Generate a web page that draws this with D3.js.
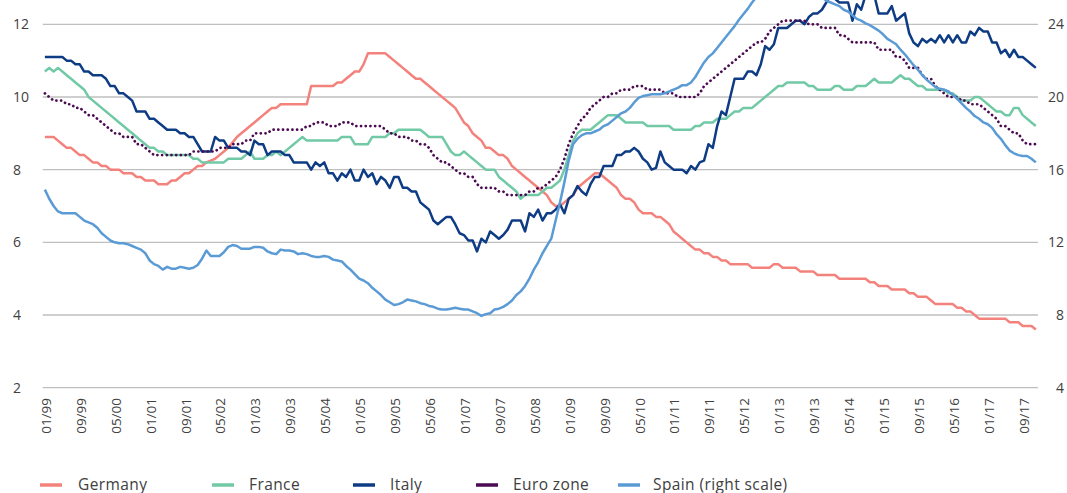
<!DOCTYPE html>
<html><head><meta charset="utf-8">
<script src="https://cdn.jsdelivr.net/npm/d3@7"></script>
<style>
html,body{margin:0;padding:0;background:#fff;}
svg{display:block;font-family:"Open Sans",sans-serif;}
</style></head><body>
<svg id="c" width="1067" height="493"></svg>
<script>
// ---- data (monthly, 01/1999 .. 12/2017) ----
const years = d3.range(1999, 2018);
const tickLabels = ["01/99","09/99","05/00","01/01","09/01","05/02","01/03","09/03","05/04","01/05","09/05","05/06","01/07","09/07","05/08","01/09","09/09","05/10","01/11","09/11","05/12","01/13","09/13","05/14","01/15","09/15","05/16","01/17","09/17"];
const leftTicks = [2,4,6,8,10,12];
const rightTicks = [4,8,12,16,20,24];

const germany = [
8.9,8.9,8.9,8.8,8.7,8.6,8.6,8.5,8.4,8.4,8.3,8.2,
8.2,8.1,8.1,8.0,8.0,8.0,7.9,7.9,7.9,7.8,7.8,7.7,
7.7,7.7,7.6,7.6,7.6,7.7,7.7,7.8,7.9,7.9,8.0,8.1,
8.1,8.2,8.25,8.3,8.4,8.5,8.6,8.75,8.9,9.0,9.1,9.2,
9.3,9.4,9.5,9.6,9.7,9.7,9.8,9.8,9.8,9.8,9.8,9.8,
9.8,10.3,10.3,10.3,10.3,10.3,10.3,10.4,10.4,10.5,10.6,10.7,
10.7,10.9,11.2,11.2,11.2,11.2,11.2,11.1,11.0,10.9,10.8,10.7,
10.6,10.5,10.5,10.4,10.3,10.2,10.1,10.0,9.9,9.8,9.7,9.5,
9.3,9.2,9.0,8.9,8.8,8.6,8.6,8.5,8.4,8.4,8.3,8.1,
8.0,7.9,7.8,7.7,7.6,7.5,7.4,7.3,7.1,7.0,7.0,7.1,
7.2,7.3,7.5,7.6,7.7,7.8,7.9,7.9,7.8,7.7,7.6,7.5,
7.3,7.2,7.2,7.1,6.9,6.8,6.8,6.8,6.7,6.7,6.6,6.5,
6.3,6.2,6.1,6.0,5.9,5.8,5.8,5.7,5.7,5.6,5.6,5.5,
5.5,5.4,5.4,5.4,5.4,5.4,5.3,5.3,5.3,5.3,5.3,5.4,
5.4,5.3,5.3,5.3,5.3,5.2,5.2,5.2,5.2,5.1,5.1,5.1,
5.1,5.1,5.0,5.0,5.0,5.0,5.0,5.0,5.0,4.9,4.9,4.8,
4.8,4.8,4.7,4.7,4.7,4.7,4.6,4.6,4.5,4.5,4.5,4.4,
4.3,4.3,4.3,4.3,4.3,4.2,4.2,4.1,4.1,4.0,3.9,3.9,
3.9,3.9,3.9,3.9,3.9,3.8,3.8,3.8,3.7,3.7,3.7,3.6];

const france = [
10.7,10.8,10.7,10.8,10.7,10.6,10.5,10.4,10.3,10.2,10.0,9.9,
9.8,9.7,9.6,9.5,9.4,9.3,9.2,9.1,9.0,8.9,8.8,8.7,
8.6,8.6,8.5,8.5,8.4,8.4,8.4,8.4,8.4,8.4,8.3,8.3,
8.2,8.2,8.2,8.2,8.2,8.2,8.3,8.3,8.3,8.3,8.4,8.5,
8.3,8.3,8.3,8.4,8.4,8.5,8.4,8.5,8.6,8.7,8.8,8.9,
8.8,8.8,8.8,8.8,8.8,8.8,8.8,8.8,8.9,8.9,8.9,8.7,
8.7,8.7,8.7,8.9,8.9,8.9,8.9,9.0,9.0,9.1,9.1,9.1,
9.1,9.1,9.1,9.0,8.9,8.9,8.9,8.9,8.7,8.5,8.4,8.4,
8.5,8.4,8.3,8.2,8.1,8.0,8.0,8.0,7.8,7.7,7.6,7.5,
7.4,7.2,7.3,7.3,7.3,7.3,7.4,7.5,7.5,7.6,7.7,8.0,
8.4,8.8,9.0,9.1,9.1,9.1,9.2,9.3,9.4,9.5,9.5,9.5,
9.4,9.3,9.3,9.3,9.3,9.3,9.2,9.2,9.2,9.2,9.2,9.2,
9.1,9.1,9.1,9.1,9.1,9.2,9.2,9.3,9.3,9.3,9.4,9.4,
9.4,9.5,9.6,9.6,9.7,9.7,9.7,9.8,9.9,10.0,10.1,10.2,
10.3,10.3,10.4,10.4,10.4,10.4,10.4,10.3,10.3,10.2,10.2,10.2,
10.2,10.3,10.3,10.2,10.2,10.2,10.3,10.3,10.3,10.4,10.5,10.4,
10.4,10.4,10.4,10.5,10.6,10.5,10.5,10.4,10.3,10.3,10.2,10.2,
10.2,10.2,10.2,10.1,10.1,10.0,9.9,9.9,9.9,10.0,10.0,9.9,
9.8,9.7,9.6,9.6,9.5,9.5,9.7,9.7,9.5,9.4,9.3,9.2];

const italy = [
11.1,11.1,11.1,11.1,11.1,11.0,11.0,10.9,10.9,10.7,10.7,10.6,
10.6,10.6,10.5,10.3,10.3,10.1,10.1,10.0,9.9,9.6,9.6,9.6,
9.4,9.4,9.3,9.2,9.1,9.1,9.1,9.0,9.0,8.9,8.9,8.7,
8.5,8.5,8.5,8.9,8.8,8.8,8.6,8.6,8.6,8.5,8.5,8.4,
8.8,8.7,8.7,8.4,8.5,8.5,8.5,8.4,8.4,8.2,8.2,8.2,
8.2,8.0,8.2,8.1,8.2,7.9,7.9,7.7,7.9,7.8,8.0,7.7,
7.7,8.0,7.8,7.9,7.6,7.8,7.7,7.5,7.8,7.8,7.5,7.5,
7.4,7.4,7.1,7.0,6.9,6.6,6.5,6.6,6.7,6.7,6.5,6.25,
6.2,6.05,6.05,5.75,6.1,6.0,6.3,6.2,6.1,6.2,6.35,6.6,
6.6,6.6,6.3,6.8,6.7,6.9,6.6,6.8,6.8,6.9,7.05,6.8,
7.2,7.3,7.55,7.4,7.3,7.6,7.8,7.8,8.1,8.1,8.1,8.4,
8.4,8.5,8.5,8.6,8.5,8.3,8.2,8.0,8.05,8.5,8.2,8.1,
8.0,8.0,8.0,7.9,8.1,8.0,8.2,8.25,8.7,8.6,9.2,9.6,
9.5,10.0,10.5,10.5,10.5,10.7,10.7,10.6,10.9,11.4,11.3,11.45,
11.9,11.9,11.9,12.0,12.1,12.1,12.0,12.2,12.3,12.3,12.4,12.6,
12.8,12.7,12.6,12.6,12.6,12.1,12.55,12.4,12.8,12.9,12.8,12.3,
12.3,12.3,12.5,12.1,12.2,12.3,11.75,11.5,11.4,11.6,11.5,11.6,
11.5,11.7,11.5,11.7,11.5,11.7,11.5,11.5,11.8,11.7,11.9,11.8,
11.8,11.5,11.5,11.2,11.3,11.1,11.3,11.1,11.1,11.0,10.9,10.8];

const euroZone = [
10.1,10.0,9.9,9.9,9.9,9.8,9.8,9.7,9.7,9.6,9.5,9.5,
9.4,9.3,9.2,9.1,9.0,9.0,8.9,8.9,8.9,8.7,8.7,8.6,
8.5,8.4,8.4,8.4,8.4,8.4,8.4,8.4,8.4,8.4,8.5,8.5,
8.5,8.5,8.5,8.5,8.6,8.6,8.6,8.7,8.7,8.7,8.8,8.8,
9.0,9.0,9.0,9.0,9.1,9.1,9.1,9.1,9.1,9.1,9.1,9.1,
9.2,9.2,9.3,9.3,9.3,9.2,9.2,9.2,9.3,9.3,9.3,9.2,
9.2,9.2,9.2,9.2,9.2,9.2,9.1,9.0,9.0,8.9,8.9,8.9,
8.8,8.8,8.7,8.7,8.6,8.4,8.3,8.2,8.2,8.1,8.0,7.9,
7.9,7.8,7.8,7.6,7.5,7.5,7.5,7.5,7.4,7.4,7.3,7.3,
7.3,7.3,7.3,7.4,7.4,7.5,7.5,7.6,7.7,7.8,8.0,8.3,
8.7,9.0,9.2,9.4,9.5,9.7,9.8,9.9,10.0,10.0,10.1,10.1,
10.2,10.2,10.2,10.3,10.3,10.3,10.2,10.2,10.2,10.2,10.1,10.1,
10.1,10.0,10.0,10.0,10.0,10.0,10.1,10.3,10.4,10.5,10.6,10.7,
10.8,10.9,11.0,11.1,11.2,11.3,11.4,11.5,11.5,11.6,11.8,11.9,
12.0,12.1,12.1,12.1,12.1,12.1,12.1,12.0,12.0,12.0,11.9,11.9,
11.9,11.9,11.7,11.7,11.6,11.5,11.5,11.5,11.5,11.5,11.5,11.3,
11.3,11.3,11.3,11.1,11.1,11.0,10.8,10.8,10.8,10.6,10.5,10.5,
10.3,10.2,10.1,10.0,10.0,10.0,9.9,9.9,9.8,9.8,9.8,9.7,
9.6,9.5,9.4,9.2,9.2,9.1,9.0,9.0,8.8,8.7,8.7,8.7];

const spain = [
14.9,14.4,14.0,13.7,13.6,13.6,13.6,13.6,13.4,13.2,13.1,13.0,
12.8,12.5,12.3,12.1,12.0,11.95,11.95,11.9,11.8,11.7,11.6,11.4,
11.0,10.8,10.7,10.5,10.65,10.55,10.55,10.65,10.6,10.55,10.6,10.75,
11.1,11.55,11.25,11.25,11.25,11.45,11.75,11.85,11.8,11.65,11.65,11.65,
11.75,11.75,11.7,11.5,11.4,11.35,11.6,11.55,11.55,11.5,11.35,11.4,
11.35,11.25,11.2,11.2,11.25,11.2,11.05,11.0,10.95,10.7,10.5,10.25,
10.0,9.9,9.75,9.5,9.3,9.1,8.85,8.7,8.55,8.6,8.7,8.85,
8.8,8.75,8.65,8.6,8.5,8.45,8.35,8.3,8.3,8.35,8.4,8.35,
8.3,8.3,8.2,8.1,7.95,8.05,8.1,8.3,8.35,8.45,8.6,8.8,
9.1,9.3,9.6,10.0,10.5,10.9,11.4,11.8,12.2,13.2,14.2,15.3,
16.5,17.4,17.7,17.9,18.0,18.0,18.1,18.2,18.4,18.5,18.7,18.9,
19.1,19.2,19.4,19.7,19.95,20.05,20.1,20.15,20.15,20.15,20.2,20.3,
20.4,20.5,20.65,20.65,20.8,21.1,21.5,21.9,22.2,22.4,22.7,23.0,
23.3,23.6,23.9,24.25,24.55,24.85,25.2,25.5,25.7,25.9,26.0,26.1,
26.2,26.3,26.3,26.2,26.1,26.0,25.9,25.8,25.7,25.6,25.5,25.3,
25.2,25.1,25.0,24.8,24.7,24.5,24.3,24.2,24.05,23.95,23.8,23.65,
23.45,23.2,23.05,22.9,22.6,22.35,22.05,21.75,21.5,21.2,20.95,20.75,
20.55,20.45,20.4,20.3,20.1,19.9,19.65,19.4,19.2,18.95,18.8,18.6,
18.5,18.3,17.95,17.7,17.35,17.05,16.9,16.8,16.75,16.75,16.6,16.4];

const seriesNames = ["Germany","France","Italy","Euro zone","Spain (right scale)"];
const seriesColors = ["#F4827C","#71C9A6","#0E3C84","#4B0A52","#5B9BD5"];

// ---- chart ----
const months = [];
years.forEach(y => { for (let m = 1; m <= 12; m++) months.push(String(m).padStart(2,"0") + "/" + String(y).slice(2)); });

const svg = d3.select("#c");
const plot = {left: 42.7, right: 1038, y2: 387.7, y12: 24.3};
const x = d3.scalePoint().domain(months).range([plot.left, plot.right]).padding(0.5);
const yL = d3.scaleLinear().domain([2, 12]).range([plot.y2, plot.y12]);
const yR = d3.scaleLinear().domain([4, 24]).range([plot.y2, plot.y12]);

// grid
svg.append("g").selectAll("line").data(leftTicks).join("line")
  .attr("x1", plot.left).attr("x2", plot.right)
  .attr("y1", d => yL(d)).attr("y2", d => yL(d))
  .attr("stroke", "#bfbfbf").attr("stroke-width", 1.3);

// left axis labels
svg.append("g").selectAll("text").data(leftTicks).join("text")
  .attr("x", 13).attr("y", d => yL(d)).attr("dy", "0.36em")
  .attr("font-size", 14).attr("fill", "#404040").text(d => d);
// right axis labels
svg.append("g").selectAll("text").data(rightTicks).join("text")
  .attr("x", 1064).attr("y", d => yR(d)).attr("dy", "0.36em")
  .attr("text-anchor", "end")
  .attr("font-size", 14).attr("fill", "#404040").text(d => d);

// x labels
svg.append("g").selectAll("text").data(tickLabels).join("text")
  .attr("transform", d => `translate(${x(d) + 6},398) rotate(-90)`)
  .attr("text-anchor", "end")
  .attr("font-size", 13.5).attr("fill", "#404040").text(d => d);

// clip
svg.append("defs").append("clipPath").attr("id", "pc")
  .append("rect").attr("x", 0).attr("y", 0).attr("width", 1067).attr("height", plot.y2 + 2);

const lines = svg.append("g").attr("clip-path", "url(#pc)");
const mk = (arr, ys) => d3.line().x((d, i) => x(months[i])).y(d => ys(d))(arr);
const data = [germany, france, italy, euroZone, spain];
data.forEach((arr, k) => {
  const p = lines.append("path")
    .attr("d", mk(arr, k === 4 ? yR : yL))
    .attr("fill", "none")
    .attr("stroke", seriesColors[k])
    .attr("stroke-width", k === 3 ? 2.7 : 2.5)
    .attr("stroke-linejoin", "round");
  if (k === 3) p.attr("stroke-dasharray", "0.1,4.6").attr("stroke-linecap", "round");
});

// legend
const legendX = [[40, 78], [212, 249], [353, 390], [476, 513], [618, 653]];
const lg = svg.append("g");
seriesNames.forEach((n, k) => {
  lg.append("line").attr("x1", legendX[k][0]).attr("x2", legendX[k][0] + 22)
    .attr("y1", 485).attr("y2", 485)
    .attr("stroke", seriesColors[k]).attr("stroke-width", 3.5);
  lg.append("text").attr("x", legendX[k][1]).attr("y", 489.5)
    .attr("font-size", 15.5).attr("letter-spacing", 0.4)
    .attr("fill", "#404040").text(n);
});
</script>
</body></html>
